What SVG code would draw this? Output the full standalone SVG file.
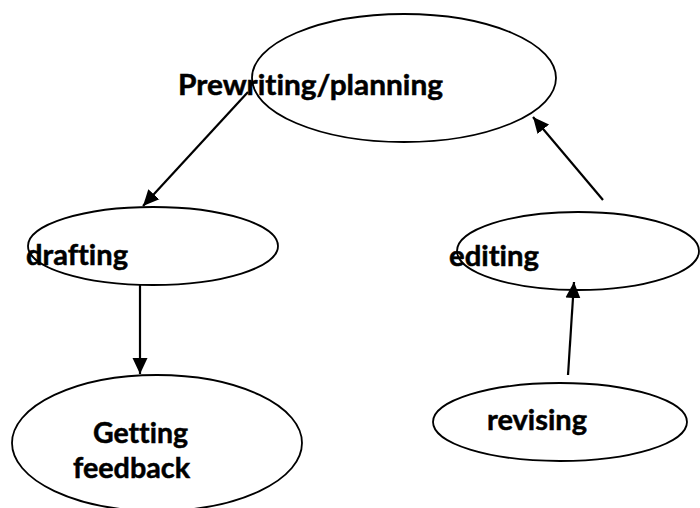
<svg xmlns="http://www.w3.org/2000/svg" width="700" height="508" viewBox="0 0 700 508">
<style>
.node ellipse{fill:#fff;stroke:#000;stroke-width:1.8}
.lbl{font-family:Lato,"Liberation Sans",sans-serif;font-weight:bold;font-size:29px;fill:#000;stroke:#000;stroke-width:0.5;font-variant-ligatures:none}
.conn line{stroke:#000;stroke-width:2.2;marker-end:url(#ah)}
</style>
<defs>
<marker id="ah" markerUnits="userSpaceOnUse" markerWidth="18" markerHeight="18" viewBox="0 0 18 18" refX="16" refY="9" orient="auto">
<path d="M0,1.5 L16,9 L0,16.5 Z" fill="#000"/>
</marker>
</defs>
<rect width="700" height="508" fill="#fff"/>
<g id="n-prewriting" class="node">
<ellipse cx="404" cy="78" rx="152" ry="64"/>
<text class="lbl" x="178" y="95" textLength="265" lengthAdjust="spacingAndGlyphs">Prewriting/planning</text>
</g>
<g id="n-drafting" class="node">
<ellipse cx="153" cy="246" rx="125" ry="39"/>
<text class="lbl" x="26" y="265" textLength="102" lengthAdjust="spacingAndGlyphs">drafting</text>
</g>
<g id="n-editing" class="node">
<ellipse cx="578" cy="251" rx="121" ry="39"/>
<text class="lbl" x="449" y="266" textLength="90" lengthAdjust="spacingAndGlyphs">editing</text>
</g>
<g id="n-feedback" class="node">
<ellipse cx="157" cy="443" rx="145" ry="68"/>
<text class="lbl" x="93" y="443" textLength="95" lengthAdjust="spacingAndGlyphs">Getting</text>
<text class="lbl" x="73" y="478" textLength="117" lengthAdjust="spacingAndGlyphs">feedback</text>
</g>
<g id="n-revising" class="node">
<ellipse cx="560" cy="422" rx="127" ry="39"/>
<text class="lbl" x="487" y="430" textLength="100" lengthAdjust="spacingAndGlyphs">revising</text>
</g>
<g id="connectors" class="conn">
<line x1="248" y1="92" x2="143" y2="206"/>
<line x1="140" y1="285" x2="140" y2="374"/>
<line x1="568" y1="375" x2="574" y2="282"/>
<line x1="603" y1="200" x2="533" y2="117"/>
</g>
</svg>
